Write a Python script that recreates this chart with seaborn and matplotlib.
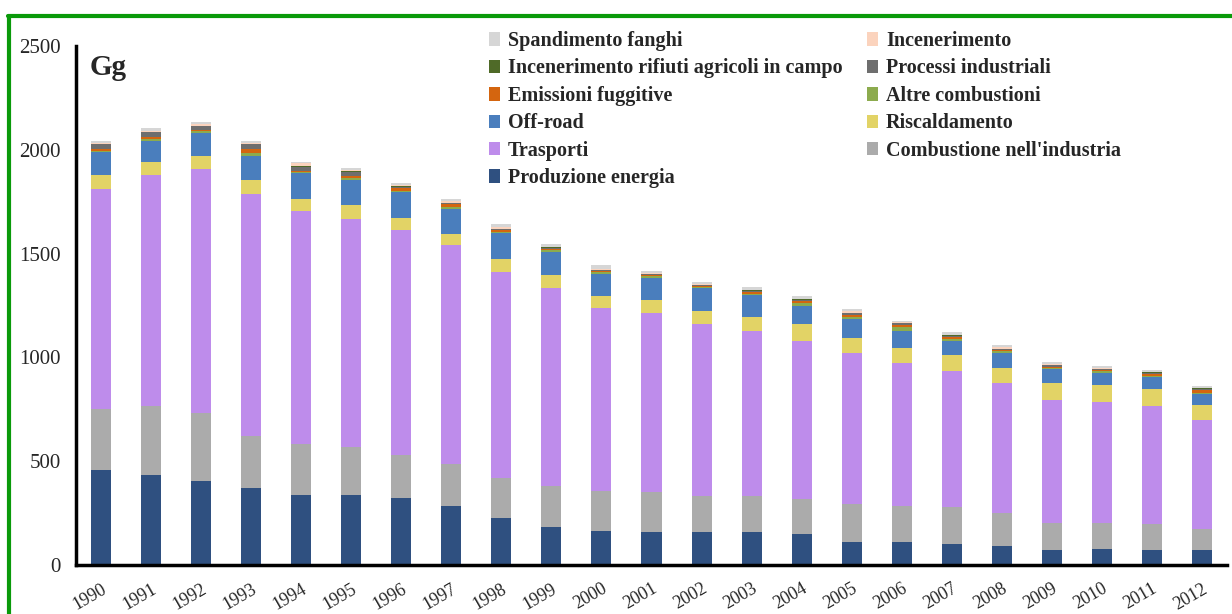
import numpy as np
import pandas as pd
import matplotlib
matplotlib.use("Agg")
import matplotlib.pyplot as plt
import seaborn as sns
from matplotlib.lines import Line2D
from matplotlib.patches import Patch

# Emissioni per settore, Gg (1990-2012)
years = [str(y) for y in range(1990, 2013)]

produzione_energia = [458, 433, 405, 371, 336, 336, 324, 284, 228, 182, 165, 159,
                      159, 159, 148, 112, 112, 101, 92, 72, 79, 72, 72]
combustione_industria = [292, 333, 326, 250, 247, 234, 206, 201, 193, 199, 193, 194,
                         175, 175, 170, 182, 172, 177, 158, 132, 125, 125, 103]
trasporti = [1060, 1111, 1175, 1165, 1124, 1097, 1084, 1055, 992, 952, 878, 859,
             827, 793, 762, 726, 688, 655, 628, 591, 580, 569, 522]
riscaldamento = [69, 63, 64, 69, 56, 67, 56, 56, 61, 64, 61, 64,
                 64, 69, 81, 72, 75, 79, 72, 80, 84, 80, 74]
off_road = [109, 104, 109, 115, 124, 121, 127, 120, 124, 112, 105, 106,
            108, 103, 87, 93, 80, 68, 70, 69, 58, 58, 53]
altre_combustioni = [5, 8, 10, 13, 5, 8, 6, 10, 6, 7, 9, 12,
                     5, 6, 13, 8, 21, 9, 11, 6, 7, 6, 6]
emissioni_fuggitive = [11, 8, 5, 21, 6, 12, 12, 11, 8, 6, 7, 2,
                       6, 10, 9, 11, 8, 8, 5, 5, 6, 10, 13]
processi_industriali = [23, 24, 20, 23, 21, 20, 7, 5, 6, 6, 2, 6,
                        5, 6, 7, 8, 8, 8, 4, 8, 5, 6, 6]
incen_rifiuti_agricoli = [2, 2, 3, 2, 2, 2, 2, 2, 2, 2, 2, 2,
                          2, 2, 2, 2, 2, 2, 2, 2, 2, 2, 2]
incenerimento = [6, 6, 5, 2, 14, 4, 5, 8, 9, 3, 4, 2,
                 2, 3, 3, 8, 3, 3, 6, 3, 3, 3, 3]
spandimento_fanghi = [8, 13, 10, 9, 6, 12, 12, 11, 14, 14, 18, 8,
                      8, 13, 13, 12, 8, 14, 10, 11, 10, 8, 8]

# stacking order, bottom -> top
layers = [
    ("Produzione energia", produzione_energia, "#2f5080"),
    ("Combustione nell'industria", combustione_industria, "#ababab"),
    ("Trasporti", trasporti, "#be8ceb"),
    ("Riscaldamento", riscaldamento, "#e2d366"),
    ("Off-road", off_road, "#4a7ebd"),
    ("Altre combustioni", altre_combustioni, "#8cab4e"),
    ("Emissioni fuggitive", emissioni_fuggitive, "#d4650f"),
    ("Processi industriali", processi_industriali, "#6e6e6e"),
    ("Incenerimento rifiuti agricoli in campo", incen_rifiuti_agricoli, "#4f6a28"),
    ("Incenerimento", incenerimento, "#fbd3bd"),
    ("Spandimento fanghi", spandimento_fanghi, "#d6d6d6"),
]

sns.set_style("white")
plt.rcParams["font.family"] = ["Liberation Serif", "DejaVu Serif"]

fig = plt.figure(figsize=(12.32, 6.14), dpi=100)
ax = fig.add_axes([76 / 1232, 1 - 565 / 614, (1227 - 76) / 1232, (565 - 46) / 614])

# cumulative totals, drawn from the top layer down so lower layers cover
cum = np.cumsum(np.array([vals for _, vals, _ in layers], dtype=float), axis=0)
for i in range(len(layers) - 1, -1, -1):
    df = pd.DataFrame({"anno": years, "valore": cum[i]})
    sns.barplot(data=df, x="anno", y="valore", color=layers[i][2],
                width=0.4, saturation=1, linewidth=0, ax=ax)

ax.set_xlim(-0.5, len(years) - 0.5)
ax.set_ylim(0, 2500)
ax.set_yticks(np.arange(0, 2501, 500))
ax.set_xlabel("")
ax.set_ylabel("")

# tick marks between categories, labels under bars
ax.set_xticks(np.arange(len(years)))
ax.set_xticklabels(years, rotation=30, ha="right", rotation_mode="anchor", fontsize=13)
ax.set_xticks(np.arange(len(years) + 1) - 0.5, minor=True)
ax.tick_params(axis="x", which="major", length=0, pad=11)
ax.tick_params(axis="x", which="minor", direction="out", length=6, width=2, color="black")
ax.tick_params(axis="y", direction="out", length=6, width=2, labelsize=15, pad=5)

sns.despine(ax=ax)
for side in ["left", "bottom"]:
    ax.spines[side].set_linewidth(2.5)
    ax.spines[side].set_color("black")
ax.grid(False)

ax.text(0.012, 0.985, "Gg", transform=ax.transAxes, fontsize=21,
        fontweight="bold", va="top", ha="left")

# legend, two columns in the original row order
lookup = {name: color for name, _, color in layers}
col1 = ["Spandimento fanghi", "Incenerimento rifiuti agricoli in campo",
        "Emissioni fuggitive", "Off-road", "Trasporti", "Produzione energia"]
col2 = ["Incenerimento", "Processi industriali", "Altre combustioni",
        "Riscaldamento", "Combustione nell'industria"]
names = col1 + col2
handles = [Patch(facecolor=lookup[n], edgecolor="none") for n in names]
fig.legend(handles, names, loc="upper left", bbox_to_anchor=(489 / 1232, 1 - 31 / 614),
           ncol=2, frameon=False, prop={"weight": "bold", "size": 14.5},
           handlelength=0.55, handleheight=0.65, handletextpad=0.4,
           labelspacing=0.37, columnspacing=1.2, borderaxespad=0, borderpad=0)

# green frame (top and left edges visible)
fig.add_artist(Line2D([8 / 1232, 1.0], [1 - 16 / 614, 1 - 16 / 614],
                      transform=fig.transFigure, color="#0a9a0a", linewidth=3))
fig.add_artist(Line2D([9 / 1232, 9 / 1232], [0.0, 1 - 16 / 614],
                      transform=fig.transFigure, color="#0a9a0a", linewidth=3))

fig.savefig("out.png", dpi=100)
